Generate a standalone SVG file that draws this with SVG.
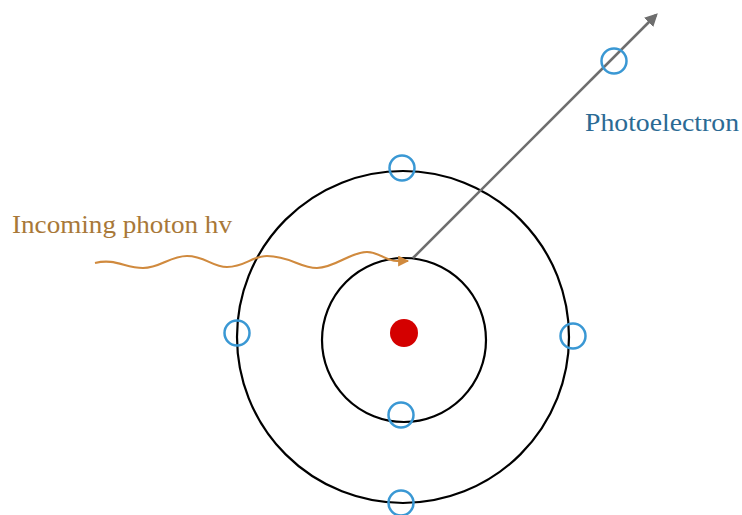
<svg xmlns="http://www.w3.org/2000/svg" width="742" height="515" viewBox="0 0 742 515">
<style>
.orbit{fill:none;stroke:#000;stroke-width:2.2}
.e{fill:none;stroke:#3a98d4;stroke-width:2.5}
.lbl{font-family:"Liberation Serif",serif;font-size:25px}
</style>
<defs>
<marker id="ga" viewBox="0 0 10 10" refX="8" refY="5" markerWidth="5" markerHeight="5" orient="auto" markerUnits="strokeWidth">
<path d="M0,0 L10,5 L0,10 Z" fill="#6e6e6e"/>
</marker>
<marker id="oa" viewBox="0 0 10 10" refX="9" refY="5" markerWidth="6" markerHeight="5" orient="auto" markerUnits="strokeWidth">
<path d="M0,0 L10,5 L0,10 Z" fill="#d08a3e"/>
</marker>
</defs>
<rect width="742" height="515" fill="#fff"/>
<g id="outer-orbit"><circle class="orbit" cx="403" cy="337" r="166"/></g>
<g id="inner-orbit"><circle class="orbit" cx="404" cy="340" r="82"/></g>
<g id="nucleus"><circle cx="404" cy="333" r="14" fill="#d40000"/></g>
<g id="connectors">
<path d="M413,258 L656,15" fill="none" stroke="#6e6e6e" stroke-width="2.6" marker-end="url(#ga)"/>
<path d="M95,263 C115,258 125,268 143,268 C160,268 170,256 187,256 C205,256 212,267 227,267 C245,267 252,256 267,256 C290,256 300,268 317,268 C335,268 350,252 367,252 C380,252 385,261 397,261 L408,261" fill="none" stroke="#d08a3e" stroke-width="2.2" marker-end="url(#oa)"/>
</g>
<g id="e-top"><circle class="e" cx="402" cy="168" r="12.5"/></g>
<g id="e-left"><circle class="e" cx="237" cy="333" r="12.5"/></g>
<g id="e-right"><circle class="e" cx="573" cy="336" r="12.5"/></g>
<g id="e-inner-bottom"><circle class="e" cx="401" cy="415" r="12.5"/></g>
<g id="e-outer-bottom"><circle class="e" cx="401" cy="503" r="12.5"/></g>
<g id="photoelectron"><circle class="e" cx="614" cy="61" r="12.5" fill="#fff"/></g>
<g id="label-photon"><text class="lbl" x="12" y="233" fill="#a87838" textLength="220" lengthAdjust="spacingAndGlyphs">Incoming photon hv</text></g>
<g id="label-photoelectron"><text class="lbl" x="585" y="131" fill="#2b6a94" textLength="154" lengthAdjust="spacingAndGlyphs">Photoelectron</text></g>
</svg>
